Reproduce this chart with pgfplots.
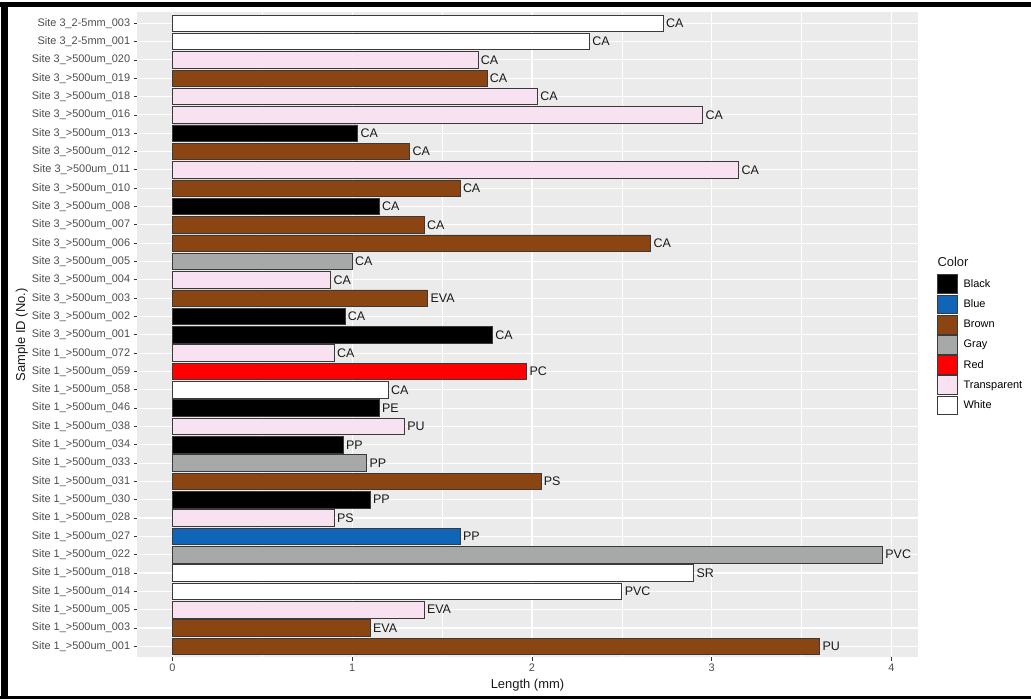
\documentclass[border=0pt]{standalone}
\usepackage{fontspec}
\setmainfont{Liberation Sans}
\usepackage{pgfplots}
\usepackage{pgfplotstable}
\pgfplotsset{compat=1.18}

\definecolor{panelbg}{HTML}{EBEBEB}
\definecolor{labelgray}{HTML}{4D4D4D}
\definecolor{tickgray}{HTML}{333333}
\definecolor{baredge}{HTML}{3A3A3A}
\definecolor{cBlack}{HTML}{000000}
\definecolor{cBlue}{HTML}{1065B6}
\definecolor{cBrown}{HTML}{8B4513}
\definecolor{cGray}{HTML}{A6A9A7}
\definecolor{cRed}{HTML}{FF0000}
\definecolor{cTransparent}{HTML}{F8E1F0}
\definecolor{cWhite}{HTML}{FFFFFF}

% id = row of the sample on the y axis (1 = bottom), len = length in mm, lab = polymer
\pgfplotstableread{
id len lab
9  1.10 PP
12 0.95 PP
14 1.15 PE
18 1.78 CA
19 0.96 CA
25 1.15 CA
29 1.03 CA
}\tblBlack
\pgfplotstableread{
id len lab
7 1.60 PP
}\tblBlue
\pgfplotstableread{
id len lab
1  3.60 PU
2  1.10 EVA
10 2.05 PS
20 1.42 EVA
23 2.66 CA
24 1.40 CA
26 1.60 CA
28 1.32 CA
32 1.75 CA
}\tblBrown
\pgfplotstableread{
id len lab
6  3.95 PVC
11 1.08 PP
22 1.00 CA
}\tblGray
\pgfplotstableread{
id len lab
16 1.97 PC
}\tblRed
\pgfplotstableread{
id len lab
3  1.40 EVA
8  0.90 PS
13 1.29 PU
17 0.90 CA
21 0.88 CA
27 3.15 CA
30 2.95 CA
31 2.03 CA
33 1.70 CA
}\tblTransparent
\pgfplotstableread{
id len lab
4  2.50 PVC
5  2.90 SR
15 1.20 CA
34 2.32 CA
35 2.73 CA
}\tblWhite

\pgfplotsset{
  colbar/.style={fill=#1, draw=baredge, line width=0.8bp,
    legend image code/.code={\draw[fill=#1, draw=baredge, line width=0.8bp] (0bp,-9.4bp) rectangle (19.6bp,9.4bp);}},
}

\begin{document}
\begin{tikzpicture}
\path (0bp,0bp) rectangle (1031bp,699bp);
% outer frame
\fill[black] (0bp,0bp) rectangle (1031bp,3bp);
\fill[black] (0bp,692bp) rectangle (1031bp,697bp);
\fill[black] (1bp,0bp) rectangle (8bp,697bp);

\begin{axis}[
  at={(137bp,41.7bp)}, anchor=south west,
  scale only axis, width=781bp, height=645bp,
  xmin=-0.1975, xmax=4.1475, ymin=0.4, ymax=35.6,
  xbar, bar width=0.9, bar shift=0pt,
  axis background/.style={fill=panelbg},
  axis line style={draw=none},
  xmajorgrids, ymajorgrids, xminorgrids,
  major grid style={white, line width=1.1bp},
  minor grid style={white, line width=0.55bp},
  xtick={0,1,2,3,4},
  minor xtick={0.5,1.5,2.5,3.5},
  ytick={1,...,35},
  yticklabels={
    Site 1\_>500um\_001, Site 1\_>500um\_003, Site 1\_>500um\_005, Site 1\_>500um\_014,
    Site 1\_>500um\_018, Site 1\_>500um\_022, Site 1\_>500um\_027, Site 1\_>500um\_028,
    Site 1\_>500um\_030, Site 1\_>500um\_031, Site 1\_>500um\_033, Site 1\_>500um\_034,
    Site 1\_>500um\_038, Site 1\_>500um\_046, Site 1\_>500um\_058, Site 1\_>500um\_059,
    Site 1\_>500um\_072, Site 3\_>500um\_001, Site 3\_>500um\_002, Site 3\_>500um\_003,
    Site 3\_>500um\_004, Site 3\_>500um\_005, Site 3\_>500um\_006, Site 3\_>500um\_007,
    Site 3\_>500um\_008, Site 3\_>500um\_010, Site 3\_>500um\_011, Site 3\_>500um\_012,
    Site 3\_>500um\_013, Site 3\_>500um\_016, Site 3\_>500um\_018, Site 3\_>500um\_019,
    Site 3\_>500um\_020, Site 3\_2-5mm\_001, Site 3\_2-5mm\_003},
  tick align=outside, tick pos=left,
  major tick length=3.3bp, minor tick length=0bp,
  tick style={tickgray, line width=0.8bp},
  ticklabel style={font=\fontsize{11}{13}\selectfont, text=labelgray},
  /pgf/number format/assume math mode=true,
  xlabel={Length (mm)}, ylabel={Sample ID (No.)},
  label style={font=\fontsize{13}{15}\selectfont, text=black!90},
  xlabel style={at={(axis description cs:0.5,-0.0429)}, anchor=center},
  ylabel style={at={(axis description cs:-0.1476,0.5)}, anchor=center, rotate=0},
  nodes near coords, point meta=explicit symbolic,
  nodes near coords style={font=\fontsize{12.5}{14}\selectfont, text=black!90, anchor=west, inner sep=2.5bp},
  legend style={at={(axis description cs:1.0243,0.5938)}, anchor=north west,
    draw=none, fill=none, inner sep=0pt, row sep=0.6bp,
    font=\fontsize{11}{13}\selectfont, cells={anchor=west},
    /tikz/every odd column/.append style={column sep=4bp}},
  legend cell align=left,
]
\addplot[colbar=cBlack] table[x=len, y=id, meta=lab] {\tblBlack};
\addlegendentry{Black}
\addplot[colbar=cBlue] table[x=len, y=id, meta=lab] {\tblBlue};
\addlegendentry{Blue}
\addplot[colbar=cBrown] table[x=len, y=id, meta=lab] {\tblBrown};
\addlegendentry{Brown}
\addplot[colbar=cGray] table[x=len, y=id, meta=lab] {\tblGray};
\addlegendentry{Gray}
\addplot[colbar=cRed] table[x=len, y=id, meta=lab] {\tblRed};
\addlegendentry{Red}
\addplot[colbar=cTransparent] table[x=len, y=id, meta=lab] {\tblTransparent};
\addlegendentry{Transparent}
\addplot[colbar=cWhite] table[x=len, y=id, meta=lab] {\tblWhite};
\addlegendentry{White}
\end{axis}

\node[anchor=base west, inner sep=0pt, font=\fontsize{13}{15}\selectfont, text=black!90] at (937.3bp,432.5bp) {Color};
\end{tikzpicture}
\end{document}
